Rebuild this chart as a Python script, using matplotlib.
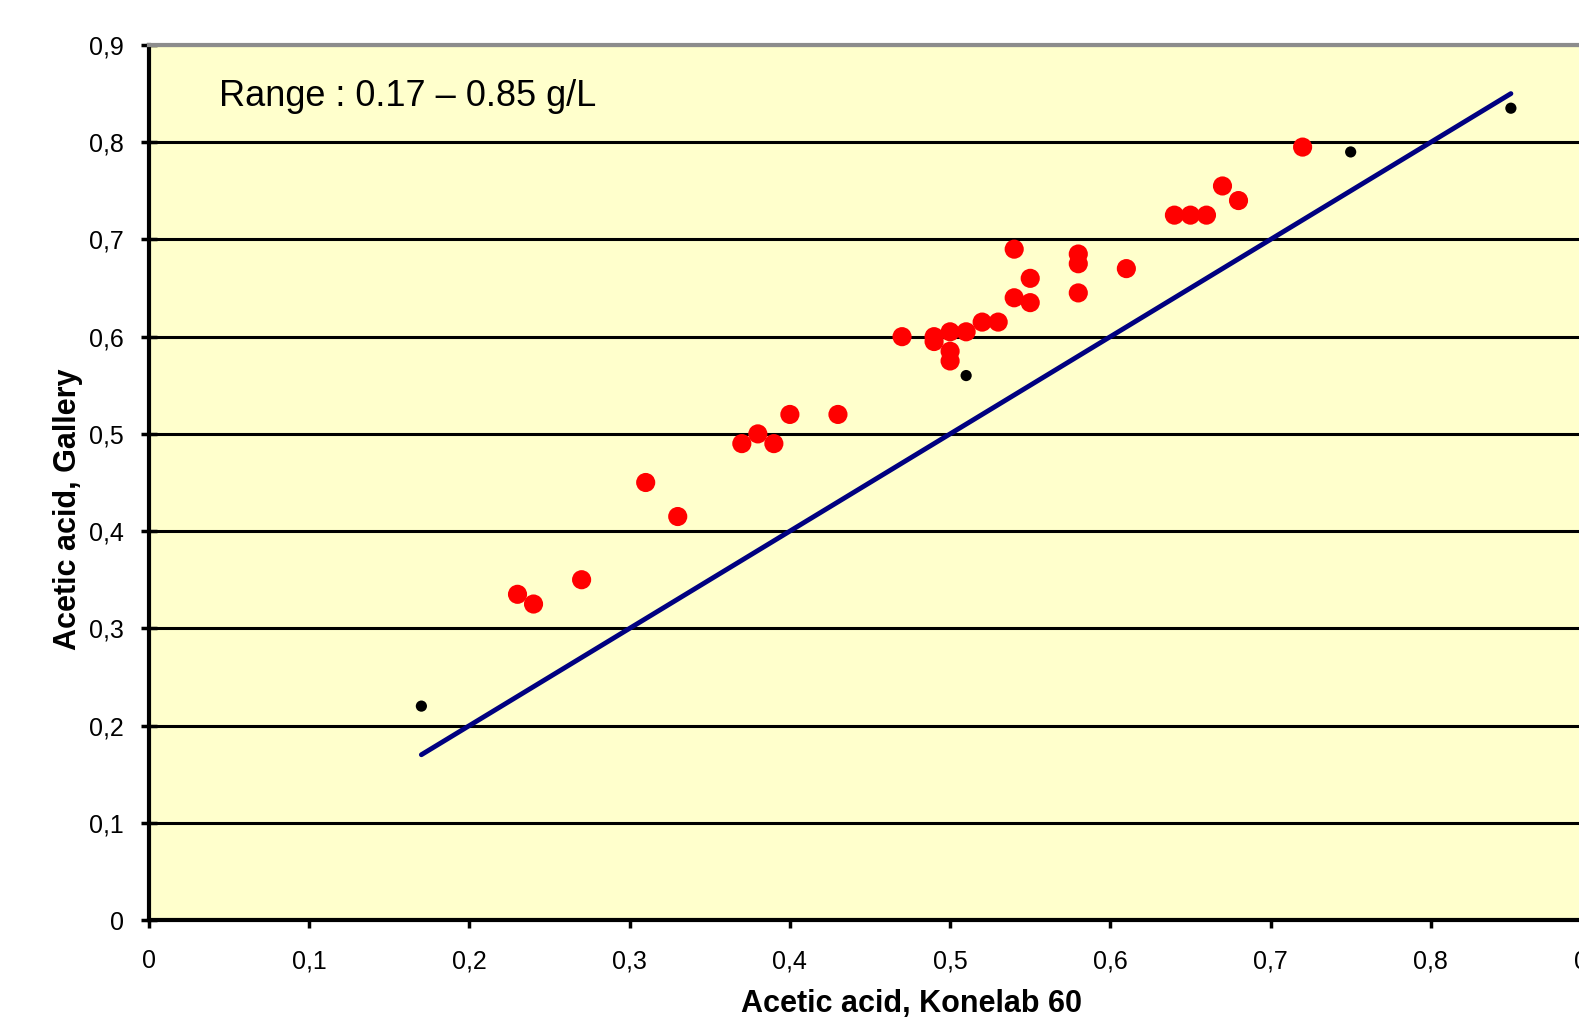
import matplotlib.pyplot as plt
from matplotlib.ticker import FuncFormatter

plt.rcParams['font.family'] = ['Liberation Sans', 'DejaVu Sans']

# Konelab 60 (x) vs Gallery (y), red samples
red_x = [0.23, 0.24, 0.27, 0.31, 0.33, 0.37, 0.38, 0.39, 0.40, 0.43,
         0.47, 0.49, 0.49, 0.50, 0.50, 0.50, 0.51, 0.52, 0.53, 0.54,
         0.54, 0.55, 0.55, 0.58, 0.58, 0.58, 0.61, 0.64, 0.65, 0.66,
         0.67, 0.68, 0.72]
red_y = [0.335, 0.325, 0.35, 0.45, 0.415, 0.49, 0.50, 0.49, 0.52, 0.52,
         0.60, 0.60, 0.595, 0.605, 0.585, 0.575, 0.605, 0.615, 0.615, 0.69,
         0.64, 0.66, 0.635, 0.685, 0.675, 0.645, 0.67, 0.725, 0.725, 0.725,
         0.755, 0.74, 0.795]

# small black points
blk_x = [0.17, 0.51, 0.75, 0.85]
blk_y = [0.22, 0.56, 0.79, 0.835]

# identity line over the range
line_x = [0.17, 0.85]
line_y = [0.17, 0.85]

W, H = 1579, 1017
fig = plt.figure(figsize=(W/100, H/100), dpi=100)
# axes runs a bit past the right edge of the figure, like the original crop
ax = fig.add_axes([149/W, 1 - 920/H, (1591 - 149)/W, (920 - 45)/H])
ax.set_facecolor('#FFFFCC')

ax.set_xlim(0, 0.9)
ax.set_ylim(0, 0.9)
ax.set_xticks([i/10 for i in range(10)])
ax.set_yticks([i/10 for i in range(10)])
fmt = FuncFormatter(lambda v, p: '0' if abs(v) < 1e-9 else f'{v:.1f}'.replace('.', ','))
ax.xaxis.set_major_formatter(fmt)
ax.yaxis.set_major_formatter(fmt)

ax.grid(axis='y', color='black', linewidth=2.2, zorder=1)
ax.set_axisbelow(True)

ax.spines['right'].set_visible(False)
ax.spines['top'].set_color('#8c8c8c')
ax.spines['top'].set_linewidth(3)
ax.spines['left'].set_linewidth(3)
ax.spines['bottom'].set_linewidth(3)

ax.tick_params(axis='y', direction='inout', length=12, width=2.5, labelsize=18, pad=12)
ax.tick_params(axis='x', direction='out', length=6, width=2.5, labelsize=18, pad=15)

ax.plot(line_x, line_y, color='#000080', linewidth=3.5, solid_capstyle='round', zorder=3)
ax.scatter(red_x, red_y, s=190, color='#FF0000', edgecolors='none', zorder=4)
ax.scatter(blk_x, blk_y, s=65, color='black', edgecolors='none', zorder=4)

ax.text(0.044, 0.847, 'Range : 0.17 – 0.85 g/L', fontsize=26, va='center', ha='left')

ax.set_xlabel('Acetic acid, Konelab 60', fontsize=22, fontweight='bold')
ax.xaxis.set_label_coords(0.529, -0.079)
ax.set_ylabel('Acetic acid, Gallery', fontsize=22, fontweight='bold')
ax.yaxis.set_label_coords(-0.046, 0.47)

fig.savefig('out.png', dpi=100)
